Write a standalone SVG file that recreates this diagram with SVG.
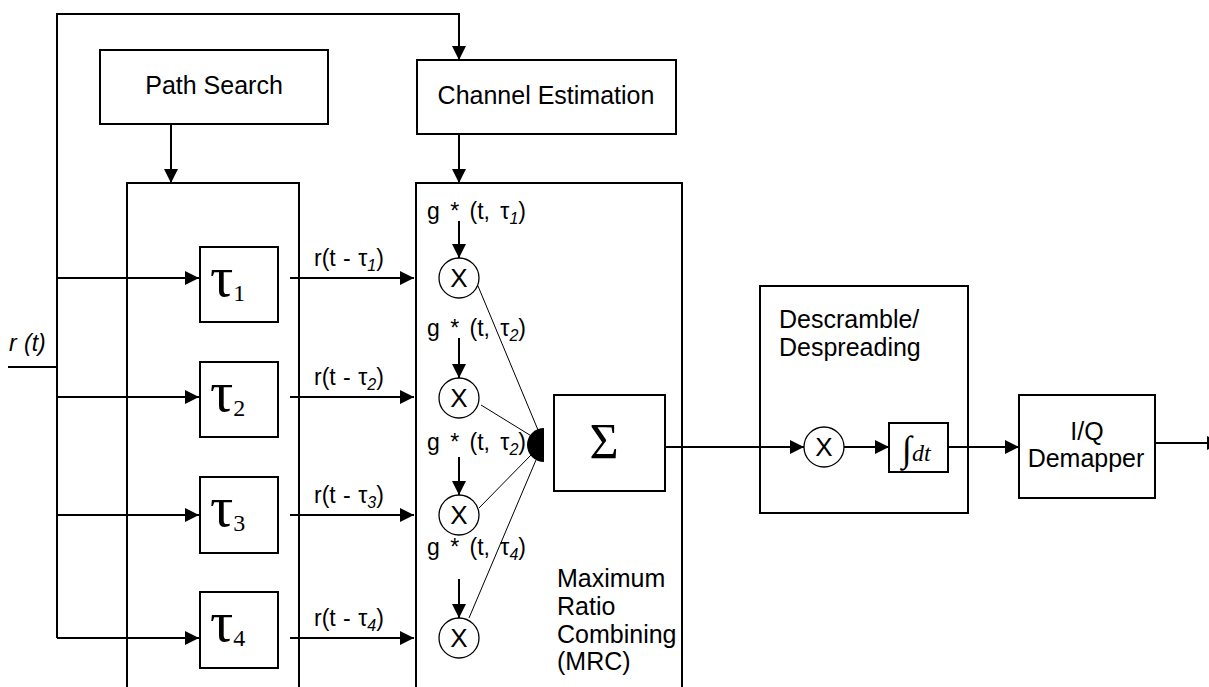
<svg xmlns="http://www.w3.org/2000/svg" width="1209" height="687" viewBox="0 0 1209 687">
<style>
.box{fill:#fff;stroke:#000;stroke-width:2}
.ln{fill:none;stroke:#000;stroke-width:2}
.thin{fill:none;stroke:#000;stroke-width:1}
.arr{marker-end:url(#ah)}
.t{font-family:"Liberation Sans",Arial,sans-serif;font-size:25px;fill:#000}
.lab{font-family:"Liberation Sans",Arial,sans-serif;font-size:23px;fill:#000;word-spacing:1px}
.tau{font-family:"Liberation Serif","Times New Roman",serif;font-size:58px;fill:#000}
.sub{font-size:24px}
.isub{font-style:italic;font-size:16px}
.circ{fill:#fff;stroke:#000;stroke-width:1.3}
.x{font-family:"Liberation Sans",Arial,sans-serif;font-size:26px;text-anchor:middle;fill:#000}
</style>
<defs>
<marker id="ah" markerUnits="userSpaceOnUse" markerWidth="14" markerHeight="14" refX="14" refY="7" orient="auto">
<path d="M0,0 L14,7 L0,14 z" fill="#000"/>
</marker>
</defs>
<rect width="1209" height="687" fill="#fff"/>

<g id="connectors">
<line class="ln" x1="8" y1="367" x2="57" y2="367"/>
<polyline class="ln arr" points="57,638 57,14 459,14 459,60"/>
<line class="ln arr" x1="171" y1="124" x2="171" y2="183"/>
<line class="ln arr" x1="459" y1="134" x2="459" y2="183"/>
<line class="ln arr" x1="57" y1="278" x2="199" y2="278"/>
<line class="ln arr" x1="57" y1="397" x2="199" y2="397"/>
<line class="ln arr" x1="57" y1="515" x2="199" y2="515"/>
<line class="ln arr" x1="57" y1="638" x2="199" y2="638"/>
<line class="ln arr" x1="290" y1="278" x2="414" y2="278"/>
<line class="ln arr" x1="290" y1="397" x2="414" y2="397"/>
<line class="ln arr" x1="290" y1="515" x2="414" y2="515"/>
<line class="ln arr" x1="290" y1="638" x2="414" y2="638"/>
<line class="ln arr" x1="459" y1="221" x2="459" y2="258"/>
<line class="ln arr" x1="459" y1="338" x2="459" y2="378"/>
<line class="ln arr" x1="459" y1="457" x2="459" y2="495"/>
<line class="ln arr" x1="459" y1="579" x2="459" y2="618"/>
<line class="thin" x1="478" y1="286" x2="538" y2="430"/>
<line class="thin" x1="481" y1="405" x2="533" y2="437"/>
<line class="thin" x1="479" y1="508" x2="531" y2="455"/>
<line class="thin" x1="469" y1="618" x2="536" y2="460"/>
<line class="ln arr" x1="665" y1="447" x2="804" y2="447"/>
<line class="ln arr" x1="844" y1="447" x2="889" y2="447"/>
<line class="ln arr" x1="948" y1="447" x2="1019" y2="447"/>
<line class="ln arr" x1="1155" y1="443" x2="1221" y2="443"/>
</g>

<g id="path-search">
<rect class="box" x="100" y="50" width="228" height="74"/>
<text class="t" x="214" y="94" text-anchor="middle">Path Search</text>
</g>

<g id="channel-estimation">
<rect class="box" x="417" y="60" width="259" height="74"/>
<text class="t" x="546" y="104" text-anchor="middle">Channel Estimation</text>
</g>

<g id="input-label">
<text class="lab" x="9" y="351" font-style="italic">r (t)</text>
</g>

<g id="delay-bank">
<rect class="ln" x="127" y="183" width="172" height="540"/>
</g>

<g id="tau1">
<rect class="box" x="200" y="247" width="78" height="75"/>
<text class="tau" x="210" y="296">τ<tspan class="sub" dy="5">1</tspan></text>
</g>
<g id="tau2">
<rect class="box" x="200" y="362" width="78" height="75"/>
<text class="tau" x="210" y="411">τ<tspan class="sub" dy="5">2</tspan></text>
</g>
<g id="tau3">
<rect class="box" x="200" y="477" width="78" height="76"/>
<text class="tau" x="210" y="526">τ<tspan class="sub" dy="5">3</tspan></text>
</g>
<g id="tau4">
<rect class="box" x="200" y="592" width="78" height="76"/>
<text class="tau" x="210" y="641">τ<tspan class="sub" dy="5">4</tspan></text>
</g>

<g id="delay-labels">
<text class="lab" x="314" y="266">r(t - τ<tspan class="isub" dy="5">1</tspan><tspan dy="-5">)</tspan></text>
<text class="lab" x="314" y="385">r(t - τ<tspan class="isub" dy="5">2</tspan><tspan dy="-5">)</tspan></text>
<text class="lab" x="314" y="503">r(t - τ<tspan class="isub" dy="5">3</tspan><tspan dy="-5">)</tspan></text>
<text class="lab" x="314" y="626">r(t - τ<tspan class="isub" dy="5">4</tspan><tspan dy="-5">)</tspan></text>
</g>

<g id="mrc">
<rect class="ln" x="416" y="183" width="266" height="540"/>
<text class="lab" x="427" y="219" style="word-spacing:4px">g * (t, τ<tspan class="isub" dy="5">1</tspan><tspan dy="-5">)</tspan></text>
<text class="lab" x="427" y="336" style="word-spacing:4px">g * (t, τ<tspan class="isub" dy="5">2</tspan><tspan dy="-5">)</tspan></text>
<text class="lab" x="427" y="450" style="word-spacing:4px">g * (t, τ<tspan class="isub" dy="5">2</tspan><tspan dy="-5">)</tspan></text>
<text class="lab" x="427" y="555" style="word-spacing:4px">g * (t, τ<tspan class="isub" dy="5">4</tspan><tspan dy="-5">)</tspan></text>
<text class="t" x="557" y="587">Maximum</text>
<text class="t" x="557" y="615">Ratio</text>
<text class="t" x="557" y="643">Combining</text>
<text class="t" x="557" y="670">(MRC)</text>
</g>

<g id="mult1"><circle class="circ" cx="459" cy="278" r="20"/><text class="x" x="459" y="287">X</text></g>
<g id="mult2"><circle class="circ" cx="459" cy="398" r="20"/><text class="x" x="459" y="407">X</text></g>
<g id="mult3"><circle class="circ" cx="459" cy="515" r="20"/><text class="x" x="459" y="524">X</text></g>
<g id="mult4"><circle class="circ" cx="459" cy="638" r="20"/><text class="x" x="459" y="647">X</text></g>

<g id="combiner-node">
<path d="M544,428 A17,17 0 0 0 544,462 Z" fill="#000"/>
</g>

<g id="sigma">
<rect class="box" x="554" y="395" width="111" height="96"/>
<text x="604" y="458" text-anchor="middle" font-family="Liberation Serif,'Times New Roman',serif" font-size="50">Σ</text>
</g>

<g id="descramble">
<rect class="ln" x="760" y="286" width="208" height="227"/>
<text class="t" x="779" y="328">Descramble/</text>
<text class="t" x="779" y="356">Despreading</text>
</g>

<g id="despread-mult"><circle class="circ" cx="824" cy="447" r="20"/><text class="x" x="824" y="456">X</text></g>

<g id="integrator">
<rect class="box" x="889" y="423" width="59" height="49"/>
<text x="902" y="461" font-family="Liberation Serif,'Times New Roman',serif" fill="#000"><tspan font-size="36">∫</tspan><tspan font-size="24" font-style="italic">dt</tspan></text>
</g>

<g id="iq-demapper">
<rect class="box" x="1019" y="395" width="136" height="103"/>
<text class="t" x="1087" y="440" text-anchor="middle">I/Q</text>
<text class="t" x="1086" y="467" text-anchor="middle">Demapper</text>
</g>
</svg>
